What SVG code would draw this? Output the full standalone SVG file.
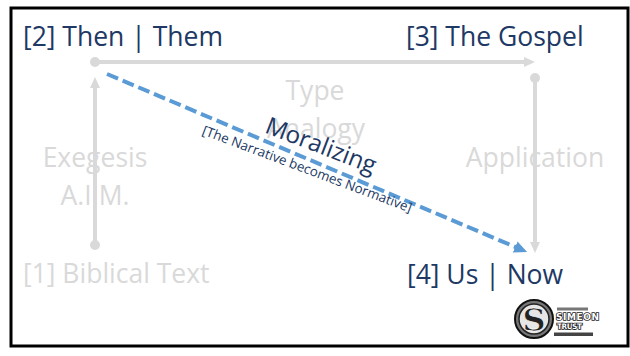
<svg xmlns="http://www.w3.org/2000/svg" width="630" height="356" viewBox="0 0 630 356">
<style>
.t{font-family:"Open Sans","Liberation Sans",sans-serif;font-size:26.5px}
.navy{fill:#203864}
.grey{fill:#D9D9D9}
.gl{stroke:#D9D9D9;stroke-width:4;fill:none}
.dot{fill:#D9D9D9}
</style>
<defs>
<marker id="ga" markerUnits="userSpaceOnUse" markerWidth="11" markerHeight="10" refX="2" refY="5" orient="auto" viewBox="0 0 11 10">
<path d="M0,0 L11,5 L0,10 z" fill="#D9D9D9"/>
</marker>
<marker id="ba" markerUnits="userSpaceOnUse" markerWidth="13" markerHeight="12" refX="2" refY="6" orient="auto" viewBox="0 0 13 12">
<path d="M0,0 L13,6 L0,12 z" fill="#5B9BD5"/>
</marker>
</defs>
<rect x="0" y="0" width="630" height="356" fill="#fff"/>
<rect x="11" y="8" width="617" height="338" fill="#fff" stroke="#000" stroke-width="3"/>

<g id="labels-grey">
<text class="t grey" x="95" y="167" text-anchor="middle">Exegesis</text>
<text class="t grey" x="95" y="205" text-anchor="middle">A.I.M.</text>
<text class="t grey" x="315" y="100" text-anchor="middle">Type</text>
<text class="t grey" x="316" y="138" text-anchor="middle">Analogy</text>
<text class="t grey" x="535" y="167" text-anchor="middle">Application</text>
</g>

<g id="connectors">
<line class="gl" x1="95" y1="62" x2="526" y2="62" marker-end="url(#ga)"/>
<line class="gl" x1="95" y1="245" x2="95" y2="86" marker-end="url(#ga)"/>
<line class="gl" x1="535" y1="78" x2="535" y2="244" marker-end="url(#ga)"/>
<circle class="dot" cx="95" cy="62" r="5"/>
<circle class="dot" cx="535" cy="78" r="5"/>
<circle class="dot" cx="95" cy="245" r="5"/>
<line x1="107" y1="74" x2="517" y2="247.7" stroke="#5B9BD5" stroke-width="4" stroke-dasharray="12 5" marker-end="url(#ba)"/>
</g>

<g id="node1"><text class="t grey" x="23" y="283">[1] Biblical Text</text></g>
<g id="node2"><text class="t navy" x="23" y="46">[2] Then | Them</text></g>
<g id="node3"><text class="t navy" x="406" y="46">[3] The Gospel</text></g>
<g id="node4"><text class="t navy" x="407" y="284">[4] Us | Now</text></g>

<g id="moralizing">
<text x="318" y="153" text-anchor="middle" transform="rotate(21 318 153)" font-family="Open Sans, Liberation Sans, sans-serif" font-size="24" fill="#203864">Moralizing</text>
<text x="305.5" y="173.4" text-anchor="middle" transform="rotate(20.6 305.5 173.4)" font-family="Open Sans, Liberation Sans, sans-serif" font-size="13.4" fill="#203864">[The Narrative becomes Normative]</text>
</g>

<g id="logo">
<circle cx="534" cy="319" r="19" fill="#777" stroke="#111" stroke-width="2"/>
<circle cx="534" cy="319" r="15" fill="#e6e6e6" stroke="#222" stroke-width="1.5"/>
<text x="534" y="330.5" text-anchor="middle" font-family="DejaVu Serif, serif" font-weight="bold" font-size="32" fill="#222" stroke="#fff" stroke-width="0.6">S</text>
<rect x="557" y="307.5" width="31" height="3" fill="#777"/>
<text x="556" y="319.5" font-family="DejaVu Sans, sans-serif" font-weight="bold" font-size="9" fill="#fff" stroke="#222" stroke-width="1.6" paint-order="stroke" textLength="43">SIMEON</text>
<text x="557" y="329" font-family="DejaVu Sans, sans-serif" font-weight="bold" font-size="7.5" fill="#fff" stroke="#222" stroke-width="1.6" paint-order="stroke" textLength="25">TRUST</text>
<rect x="554" y="332.5" width="39" height="3.5" fill="#444"/>
</g>
</svg>
